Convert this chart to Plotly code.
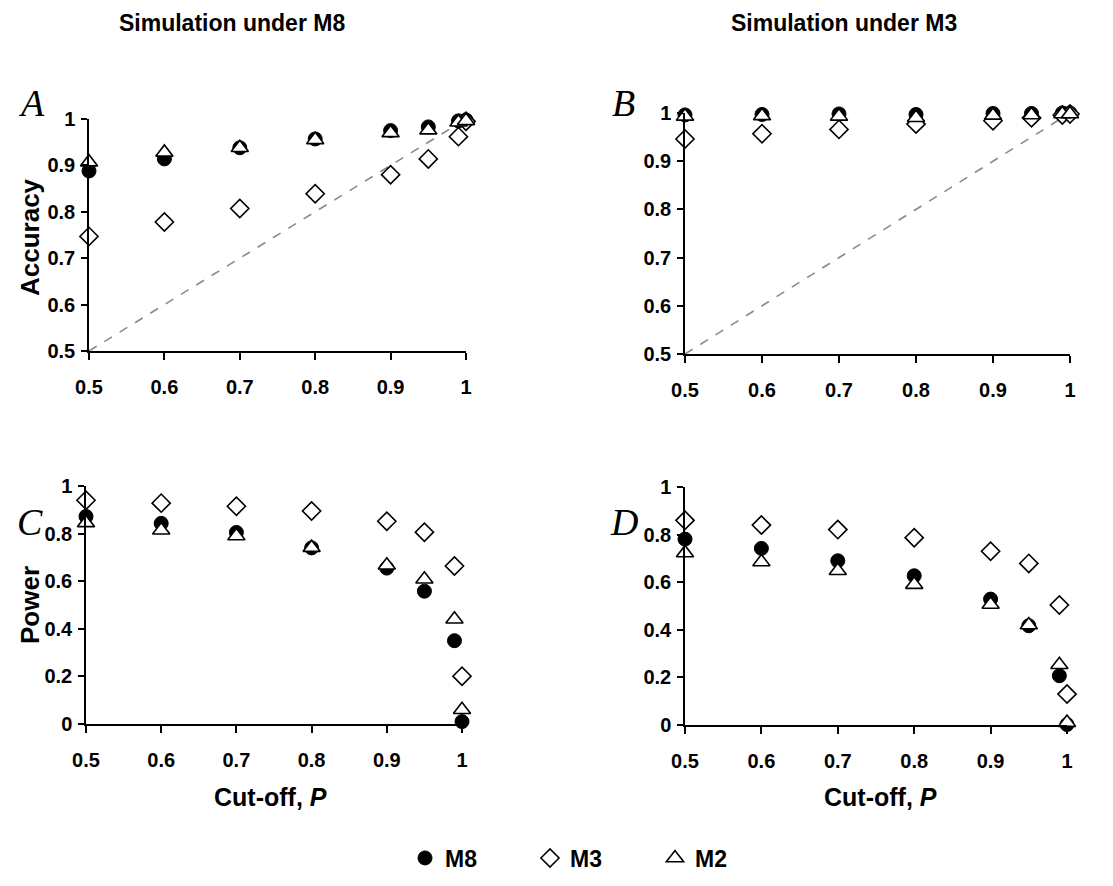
import plotly.graph_objects as go

# ---------------- data ----------------
cutoff = [0.5, 0.6, 0.7, 0.8, 0.9, 0.95, 0.99, 1.0]

# Panel A: accuracy, simulation under M8
acc_m8_M8 = [0.888, 0.914, 0.938, 0.957, 0.975, 0.983, 0.996, 0.998]
acc_m8_M3 = [0.747, 0.778, 0.807, 0.839, 0.880, 0.914, 0.962, 0.995]
acc_m8_M2 = [0.907, 0.928, 0.938, 0.955, 0.970, 0.976, 0.993, 0.996]

# Panel B: accuracy, simulation under M3
acc_m3_M8 = [0.996, 0.997, 0.998, 0.997, 0.999, 0.999, 1.0, 1.0]
acc_m3_M3 = [0.946, 0.957, 0.966, 0.977, 0.984, 0.990, 0.996, 0.998]
acc_m3_M2 = [0.993, 0.994, 0.993, 0.990, 0.995, 0.996, 0.998, 0.998]

# Panel C: power, simulation under M8
pow_m8_M8 = [0.872, 0.843, 0.805, 0.740, 0.655, 0.558, 0.350, 0.010]
pow_m8_M3 = [0.940, 0.928, 0.915, 0.895, 0.852, 0.806, 0.664, 0.201]
pow_m8_M2 = [0.845, 0.814, 0.790, 0.741, 0.667, 0.608, 0.440, 0.060]

# Panel D: power, simulation under M3
pow_m3_M8 = [0.781, 0.742, 0.690, 0.627, 0.529, 0.417, 0.207, 0.002]
pow_m3_M3 = [0.860, 0.840, 0.821, 0.787, 0.730, 0.679, 0.504, 0.130]
pow_m3_M2 = [0.723, 0.685, 0.648, 0.590, 0.506, 0.420, 0.253, 0.010]

diag = [0.5, 1.0]

x_ticks = [0.5, 0.6, 0.7, 0.8, 0.9, 1.0]
x_ticktext = ["0.5", "0.6", "0.7", "0.8", "0.9", "1"]
acc_ticks = [0.5, 0.6, 0.7, 0.8, 0.9, 1.0]
acc_ticktext = ["0.5", "0.6", "0.7", "0.8", "0.9", "1"]
pow_ticks = [0, 0.2, 0.4, 0.6, 0.8, 1.0]
pow_ticktext = ["0", "0.2", "0.4", "0.6", "0.8", "1"]

series_names = ["M8", "M3", "M2"]
panel_titles = ["Simulation under M8", "Simulation under M3"]

# ---------------- figure ----------------
W, H = 1113, 886
OFF = 8  # page body margin
fig = go.Figure()

def px_x(p):
    return (p - OFF) / W

def px_y(p):
    return 1 - (p - OFF) / H

panels = [
    ("x", "y", (89, 466), (119, 351), (acc_m8_M8, acc_m8_M3, acc_m8_M2), "acc"),
    ("x2", "y2", (685, 1070), (113, 354), (acc_m3_M8, acc_m3_M3, acc_m3_M2), "acc"),
    ("x3", "y3", (86, 462), (486, 724), (pow_m8_M8, pow_m8_M3, pow_m8_M2), "pow"),
    ("x4", "y4", (685, 1067), (487, 725), (pow_m3_M8, pow_m3_M3, pow_m3_M2), "pow"),
]

styles = [
    dict(symbol="circle", size=14, color="black", line=dict(color="black", width=1)),
    dict(symbol="diamond", size=14, color="white", line=dict(color="black", width=1.6)),
    dict(symbol="triangle-up", size=15, color="white", line=dict(color="black", width=1.6)),
]

tickfont = dict(family="Liberation Sans", size=20, color="black", weight="bold")

for i, (xa, ya, xd, yd, data, kind) in enumerate(panels):
    if kind == "acc":
        fig.add_trace(go.Scatter(
            x=diag, y=diag, xaxis=xa, yaxis=ya, mode="lines",
            line=dict(color="#8a8a8a", width=1.6, dash="dash"),
            showlegend=False, hoverinfo="skip", cliponaxis=False))
    for j, vals in enumerate(data):
        fig.add_trace(go.Scatter(
            x=cutoff, y=vals, xaxis=xa, yaxis=ya, mode="markers",
            name=series_names[j], marker=styles[j], cliponaxis=False,
            showlegend=(i == 0), legendgroup=series_names[j]))
    xkey = "xaxis" if xa == "x" else "xaxis" + xa[1:]
    ykey = "yaxis" if ya == "y" else "yaxis" + ya[1:]
    fig.layout[xkey] = dict(
        domain=[px_x(xd[0]), px_x(xd[1])], anchor=ya, range=[0.5, 1.0],
        tickvals=x_ticks, ticktext=x_ticktext, ticks="outside", ticklen=7,
        tickwidth=1.5, tickcolor="black", showline=True, linecolor="black",
        linewidth=1.8, showgrid=False, zeroline=False, tickfont=tickfont,
        ticklabelstandoff=10, automargin=False)
    if kind == "acc":
        yr, yt, ytt = [0.5, 1.0], acc_ticks, acc_ticktext
    else:
        yr, yt, ytt = [0, 1.0], pow_ticks, pow_ticktext
    fig.layout[ykey] = dict(
        domain=[px_y(yd[1]), px_y(yd[0])], anchor=xa, range=yr,
        tickvals=yt, ticktext=ytt, ticks="outside", ticklen=6,
        tickwidth=1.5, tickcolor="black", showline=True, linecolor="black",
        linewidth=1.5, showgrid=False, zeroline=False, tickfont=tickfont,
        ticklabelstandoff=2, automargin=False)

annotations = []
# column titles
for cx, t in zip([232, 844], panel_titles):
    annotations.append(dict(x=px_x(cx), y=px_y(23), xref="paper", yref="paper",
                            text=t, showarrow=False, xanchor="center", yanchor="middle",
                            font=dict(family="Liberation Sans", size=23, color="black", weight="bold")))
# panel letters
for (lx, ly, t) in [(31, 103, "A"), (623, 103, "B"), (30, 522, "C"), (624, 522, "D")]:
    annotations.append(dict(x=px_x(lx), y=px_y(ly), xref="paper", yref="paper",
                            text="<i>%s</i>" % t, showarrow=False, xanchor="center", yanchor="middle",
                            font=dict(family="Liberation Serif", size=38, color="black")))
# y axis titles
for (ax, ay, t) in [(30, 237, "Accuracy"), (30, 605, "Power")]:
    annotations.append(dict(x=px_x(ax), y=px_y(ay), xref="paper", yref="paper",
                            text=t, showarrow=False, textangle=-90, xanchor="center", yanchor="middle",
                            font=dict(family="Liberation Sans", size=26, color="black", weight="bold")))
# x axis titles
for cx in [270, 880]:
    annotations.append(dict(x=px_x(cx), y=px_y(797), xref="paper", yref="paper",
                            text="Cut-off, <i>P</i>", showarrow=False, xanchor="center", yanchor="middle",
                            font=dict(family="Liberation Sans", size=25, color="black", weight="bold")))

fig.update_layout(
    width=W, height=H, margin=dict(l=0, r=0, t=0, b=0, autoexpand=False),
    paper_bgcolor="white", plot_bgcolor="white",
    annotations=annotations,
    showlegend=True,
    legend=dict(orientation="h", x=px_x(405), xanchor="left", y=px_y(858), yanchor="middle",
                font=dict(family="Liberation Sans", size=23, color="black", weight="bold"),
                itemwidth=30, entrywidth=80, bgcolor="rgba(0,0,0,0)"),
)

fig.write_html("out.html")
